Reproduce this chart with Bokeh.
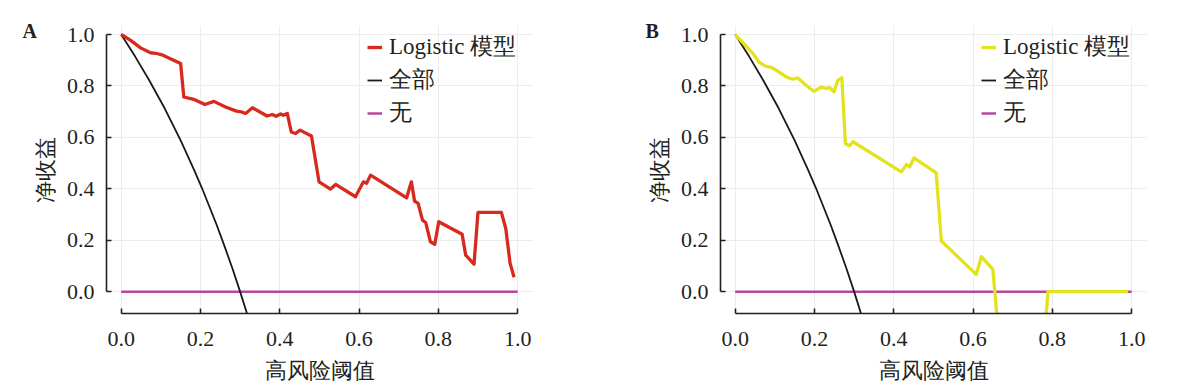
from bokeh.plotting import figure
from bokeh.layouts import row
from bokeh.models import Range1d, FixedTicker, PrintfTickFormatter, Legend, LegendItem, Title
from bokeh.embed import file_html
from bokeh.resources import INLINE

# ---------------- data ----------------
x_ticks = [0.0, 0.2, 0.4, 0.6, 0.8, 1.0]
y_ticks = [0.0, 0.2, 0.4, 0.6, 0.8, 1.0]

a_model_x = [0.0, 0.024, 0.049, 0.074, 0.087, 0.103, 0.124, 0.150, 0.158, 0.183,
             0.211, 0.234, 0.263, 0.291, 0.303, 0.314, 0.331, 0.368, 0.381, 0.391,
             0.402, 0.409, 0.419, 0.429, 0.440, 0.451, 0.480, 0.499, 0.528, 0.541,
             0.591, 0.611, 0.619, 0.629, 0.720, 0.732, 0.740, 0.749, 0.760, 0.768,
             0.780, 0.791, 0.801, 0.860, 0.869, 0.890, 0.900, 0.959, 0.970, 0.981, 0.991]
a_model_y = [1.0, 0.977, 0.948, 0.929, 0.927, 0.921, 0.906, 0.887, 0.757, 0.748,
             0.728, 0.740, 0.718, 0.702, 0.699, 0.693, 0.715, 0.683, 0.689, 0.682,
             0.691, 0.686, 0.693, 0.621, 0.615, 0.628, 0.605, 0.427, 0.399, 0.417,
             0.369, 0.427, 0.421, 0.453, 0.365, 0.427, 0.352, 0.343, 0.278, 0.269,
             0.194, 0.184, 0.272, 0.223, 0.142, 0.107, 0.308, 0.308, 0.246, 0.110, 0.056]

b_model_x = [0.0, 0.024, 0.045, 0.061, 0.078, 0.091, 0.108, 0.129, 0.145, 0.158,
             0.179, 0.198, 0.217, 0.230, 0.238, 0.249, 0.259, 0.269, 0.278, 0.288,
             0.297, 0.419, 0.432, 0.440, 0.451, 0.507, 0.520, 0.608, 0.621, 0.650,
             0.659, 0.667, 0.783, 0.789, 0.991]
b_model_y = [1.0, 0.961, 0.926, 0.891, 0.876, 0.872, 0.857, 0.835, 0.826, 0.831,
             0.803, 0.779, 0.795, 0.790, 0.794, 0.777, 0.822, 0.832, 0.576, 0.567,
             0.583, 0.466, 0.494, 0.485, 0.520, 0.462, 0.197, 0.067, 0.136, 0.087,
             -0.075, -0.12, -0.12, 0.0, 0.0]

all_x = [0.0, 0.035, 0.07, 0.11, 0.15, 0.185, 0.204, 0.24, 0.259, 0.28, 0.30, 0.32]
all_y = [1.0, 0.915, 0.824, 0.712, 0.588, 0.470, 0.402, 0.263, 0.184, 0.093, 0.0, -0.098]

none_x = [0.0, 1.0]
none_y = [0.0, 0.0]

legend_labels = ["Logistic 模型", "全部", "无"]
x_title = "高风险阈值"
y_title = "净收益"
panel_letters = ["A", "B"]

# ---------------- styling ----------------
FONT = "Liberation Serif"
TXT = "#231f20"
RED = "#d8291d"
YELLOW = "#e2e31c"
PURPLE = "#b4489f"
BLACK = "#1a1a1a"


def make_panel(model_x, model_y, color, letter, width, left_border, right_border, letter_offset):
    p = figure(width=width, height=391, output_backend="svg", toolbar_location=None,
               x_range=Range1d(-0.037, 1.04), y_range=Range1d(-0.085, 1.035),
               min_border_left=left_border, min_border_right=right_border,
               min_border_top=25, min_border_bottom=78)
    p.outline_line_color = None
    p.background_fill_color = "white"
    p.border_fill_color = "white"

    for ax, ticks in ((p.xaxis[0], x_ticks), (p.yaxis[0], y_ticks)):
        ax.ticker = FixedTicker(ticks=ticks)
        ax.formatter = PrintfTickFormatter(format="%.1f")
        ax.bounds = (0, 1)
        ax.axis_line_color = TXT
        ax.axis_line_width = 1.6
        ax.major_tick_line_color = TXT
        ax.major_tick_line_width = 1.6
        ax.major_tick_in = 5
        ax.major_tick_out = 0
        ax.minor_tick_line_color = None
        ax.major_label_text_font = FONT
        ax.major_label_text_font_size = "22px"
        ax.major_label_text_color = TXT
        ax.axis_label_text_font = FONT
        ax.axis_label_text_font_size = "22px"
        ax.axis_label_text_font_style = "normal"
        ax.axis_label_text_color = TXT
    p.xaxis.axis_label = x_title
    p.yaxis.axis_label = y_title
    p.xaxis.major_label_standoff = 18
    p.yaxis.major_label_standoff = 12
    p.xaxis.axis_label_standoff = 9
    p.yaxis.axis_label_standoff = 6

    p.xgrid.grid_line_color = "#ececec"
    p.ygrid.grid_line_color = "#ececec"
    p.xgrid.grid_line_width = 1
    p.ygrid.grid_line_width = 1

    r_none = p.line(none_x, none_y, line_color=PURPLE, line_width=2.5)
    r_all = p.line(all_x, all_y, line_color=BLACK, line_width=1.8, line_join="round")
    r_model = p.line(model_x, model_y, line_color=color, line_width=3.3, line_join="round")

    legend = Legend(items=[LegendItem(label=legend_labels[0], renderers=[r_model]),
                           LegendItem(label=legend_labels[1], renderers=[r_all]),
                           LegendItem(label=legend_labels[2], renderers=[r_none])],
                    location=(261, 185), orientation="vertical")
    legend.background_fill_alpha = 0
    legend.border_line_color = None
    legend.padding = 0
    legend.margin = 0
    legend.spacing = 2
    legend.glyph_width = 15
    legend.glyph_height = 26
    legend.label_height = 26
    legend.label_standoff = 7
    legend.label_text_font = FONT
    legend.label_text_font_size = "23px"
    legend.label_text_color = TXT
    p.add_layout(legend)

    t = Title(text=letter, align="left", offset=letter_offset, standoff=-32,
              vertical_align="bottom", text_font=FONT, text_font_style="bold",
              text_font_size="20px", text_color=TXT)
    p.add_layout(t, "above")
    return p


pa = make_panel(a_model_x, a_model_y, RED, panel_letters[0], 622, 106, 89, -84)
pb = make_panel(b_model_x, b_model_y, YELLOW, panel_letters[1], 540, 98, 15, -75)

layout = row(pa, pb)
open("out.html", "w").write(file_html(layout, INLINE))
